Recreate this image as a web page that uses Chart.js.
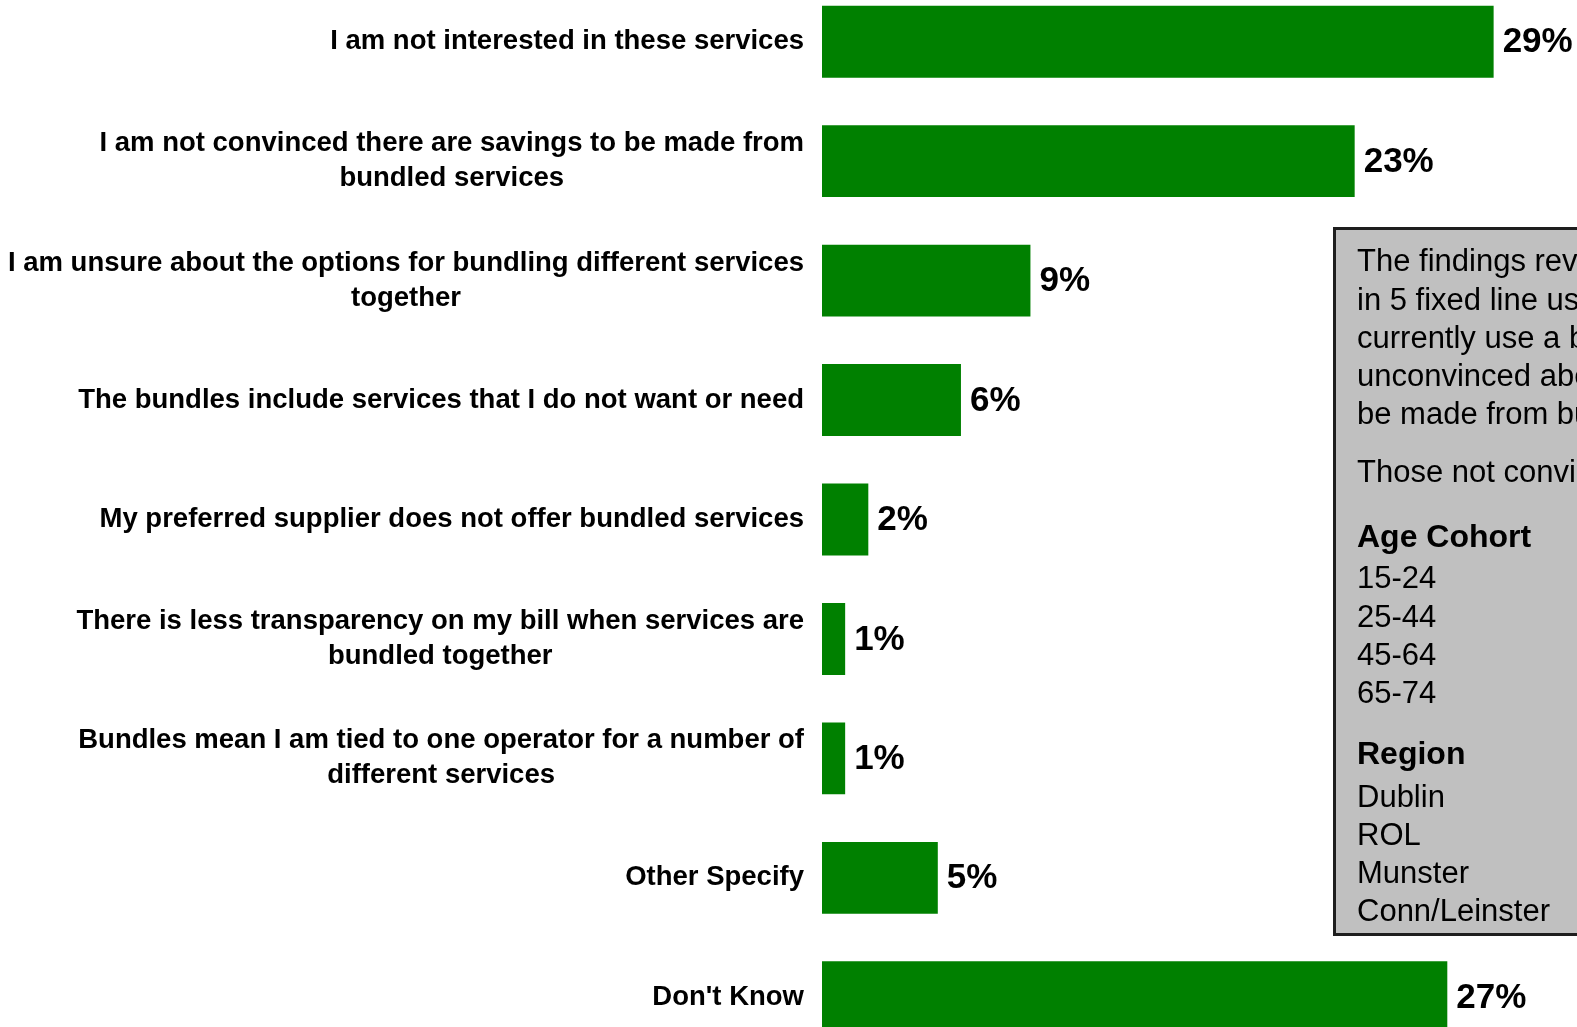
<!DOCTYPE html>
<html>
<head>
<meta charset="utf-8">
<title>Reasons for not bundling services</title>
<script src="https://cdn.jsdelivr.net/npm/chart.js@4.4.1/dist/chart.umd.min.js"></script>
<style>
  html, body { margin: 0; padding: 0; background: #fff; overflow: hidden; width: 1577px; height: 1027px; }
  #wrap { position: absolute; left: 0; top: -18px; width: 1577px; height: 1075px; }
  #note {
    position: absolute; left: 1333px; top: 227px; width: 420px; height: 703px;
    background: #c0c0c0; border: 3px solid #1e1e1e;
    font-family: Arial, "Liberation Sans", sans-serif; font-size: 31px; color: #000;
  }
  #note div { position: absolute; left: 21px; white-space: nowrap; height: 38px; line-height: 38px; }
  #note .hd { font-weight: bold; font-size: 32px; }
</style>
</head>
<body>
<div id="wrap"><canvas id="barChart" width="1577" height="1075"></canvas></div>

<div id="note">
  <div style="top:12px">The findings reveal that 1</div>
  <div style="top:51px">in 5 fixed line users who</div>
  <div style="top:89px">currently use a bundle are</div>
  <div style="top:127px">unconvinced about savings to</div>
  <div style="top:165px">be made from bundling.</div>
  <div style="top:223px">Those not convinced:</div>
  <div class="hd" style="top:287px">Age Cohort</div>
  <div style="top:329px">15-24</div>
  <div style="top:368px">25-44</div>
  <div style="top:406px">45-64</div>
  <div style="top:444px">65-74</div>
  <div class="hd" style="top:504px">Region</div>
  <div style="top:548px">Dublin</div>
  <div style="top:586px">ROL</div>
  <div style="top:624px">Munster</div>
  <div style="top:662px">Conn/Leinster</div>
</div>

<script>
// answers, one array entry per bar (each entry = lines of the label)
const reasons = [
    ["I am not interested in these services"],
    ["I am not convinced there are savings to be made from", "bundled services"],
    ["I am unsure about the options for bundling different services", "together"],
    ["The bundles include services that I do not want or need"],
    ["My preferred supplier does not offer bundled services"],
    ["There is less transparency on my bill when services are", "bundled together"],
    ["Bundles mean I am tied to one operator for a number of", "different services"],
    ["Other Specify"],
    ["Don't Know"]
];
const shares = [29, 23, 9, 6, 2, 1, 1, 5, 27];

const labelFont = 'bold 27.5px Arial, "Liberation Sans", sans-serif';
const valueFont = 'bold 35px Arial, "Liberation Sans", sans-serif';

// draws the wrapped answer text left of the bars and the % at each bar end
const barText = {
    id: 'barText',
    afterDatasetsDraw(chart) {
        const ctx = chart.ctx;
        const yScale = chart.scales.y;
        const bars = chart.getDatasetMeta(0).data;
        ctx.save();
        ctx.fillStyle = '#000';
        ctx.textBaseline = 'middle';

        ctx.font = labelFont;
        ctx.textAlign = 'center';
        reasons.forEach(function (lines, i) {
            const yc = yScale.getPixelForValue(i);
            let maxW = 0;
            lines.forEach(function (l) { maxW = Math.max(maxW, ctx.measureText(l).width); });
            const cx = 804 - maxW / 2;
            lines.forEach(function (l, j) {
                ctx.fillText(l, cx, yc + (j - (lines.length - 1) / 2) * 35);
            });
        });

        ctx.font = valueFont;
        ctx.textAlign = 'left';
        bars.forEach(function (bar, i) {
            ctx.fillText(shares[i] + '%', bar.x + 9, bar.y + 1);
        });
        ctx.restore();
    }
};

const ctx = document.getElementById('barChart').getContext('2d');
new Chart(ctx, {
    type: 'bar',
    data: {
        labels: reasons,
        datasets: [{
            label: 'Reasons',
            data: shares,
            backgroundColor: '#008000',
            borderWidth: 0,
            barPercentage: 0.602,
            categoryPercentage: 1
        }]
    },
    options: {
        indexAxis: 'y',
        responsive: false,
        animation: false,
        layout: { padding: { left: 822, right: 0, top: 0, bottom: 0 } },
        scales: {
            x: { display: false, min: 0, max: 32.6 },
            y: { display: false }
        },
        plugins: {
            legend: { display: false },
            tooltip: { enabled: false }
        }
    },
    plugins: [barText]
});
</script>
</body>
</html>
